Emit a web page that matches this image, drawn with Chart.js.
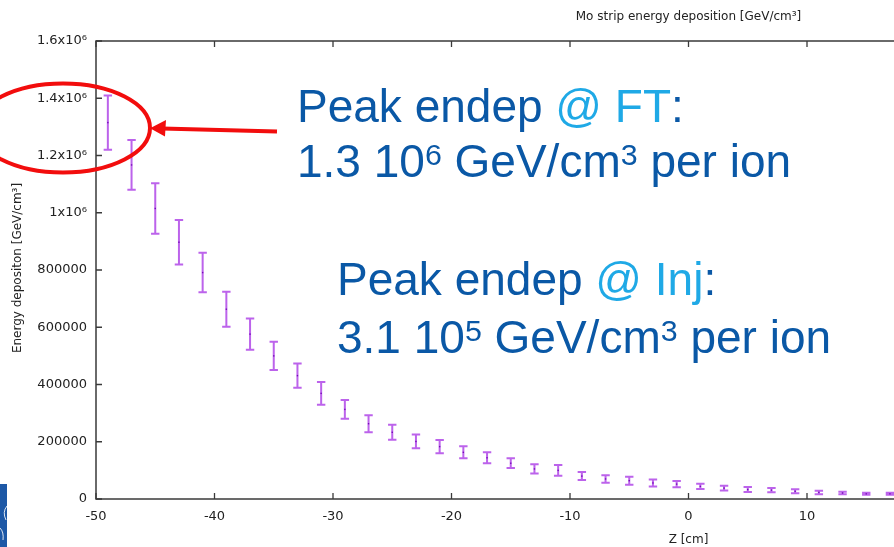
<!DOCTYPE html>
<html><head><meta charset="utf-8">
<script src="https://cdn.jsdelivr.net/npm/chart.js@4.4.0/dist/chart.umd.min.js"></script>
<style>
html,body{margin:0;padding:0;background:#fff;overflow:hidden;width:894px;height:547px;}
#wrap{position:absolute;left:0;top:0;width:1330px;height:547px;}
</style></head><body>
<div id="wrap"><canvas id="c" width="1330" height="547"></canvas></div>
<script>
// ---- data ----
const zValues = [-49,-47,-45,-43,-41,-39,-37,-35,-33,-31,-29,-27,-25,-23,-21,-19,-17,-15,-13,-11,-9,-7,-5,-3,-1,1,3,5,7,9,11,13,15,17];
const energy = [1315000,1167000,1015000,897000,791000,663000,576000,500000,431000,369000,313000,263000,233000,201000,183000,163000,144000,125000,105000,100000,80000,70000,64000,56000,52000,44000,38000,33000,31000,27000,23000,21000,18000,18000];
const energyErr = [95000,87000,88000,78000,69000,61000,55000,49000,42000,40000,33000,30000,26000,24000,23000,21000,19000,17000,16000,19000,14000,13000,14000,12000,11000,9000,8000,8500,7000,7000,6000,4000,3500,3500];
const xTickValues = [-50,-40,-30,-20,-10,0,10,20,30,40,50];
const yTickValues = [0,200000,400000,600000,800000,1000000,1200000,1400000,1600000];
const yTickLabels = ['0','200000','400000','600000','800000','1x10\u2076','1.2x10\u2076','1.4x10\u2076','1.6x10\u2076'];
const chartTitle = 'Mo strip energy deposition [GeV/cm\u00b3]';
const xTitle = 'Z [cm]';
const yTitle = 'Energy depositon [GeV/cm\u00b3]';
// annotation lines: [text, style] where style: d=dark blue, l=light blue, s=superscript dark
const noteFT1 = [['Peak endep ','d'],['@ FT','l'],[':','d']];
const noteFT2 = [['1.3 10','d'],['6','s'],[' GeV/cm','d'],['3','s'],[' per ion','d']];
const noteInj1 = [['Peak endep ','d'],['@ Inj','l'],[':','d']];
const noteInj2 = [['3.1 10','d'],['5','s'],[' GeV/cm','d'],['3','s'],[' per ion','d']];

const DARK = '#0a58a6', LIGHT = '#1fa9e6';
const AXIS = '#3a3a3a', TXT = '#222';

function drawNote(ctx, parts, x, y, size){
  let cx = x;
  for (const [t, s] of parts){
    if (s === 's'){
      ctx.font = (size*0.66).toFixed(1)+'px "Liberation Sans", Arial, sans-serif';
      ctx.fillStyle = DARK;
      ctx.fillText(t, cx, y - size*0.26);
    } else {
      ctx.font = size+'px "Liberation Sans", Arial, sans-serif';
      ctx.fillStyle = s === 'l' ? LIGHT : DARK;
      ctx.fillText(t, cx, y);
    }
    cx += ctx.measureText(t).width;
  }
}

const framePlugin = {
  id: 'frame',
  afterDatasetsDraw(chart){
    const ctx = chart.ctx, a = chart.chartArea;
    const xs = chart.scales.x, ys = chart.scales.y;
    ctx.save();
    // error bars
    ctx.strokeStyle = 'rgba(176,72,232,0.85)';
    ctx.lineWidth = 2;
    for (let i = 0; i < zValues.length; i++){
      const px = xs.getPixelForValue(zValues[i]);
      const pt = ys.getPixelForValue(energy[i] + energyErr[i]);
      const pb = ys.getPixelForValue(energy[i] - energyErr[i]);
      ctx.beginPath();
      ctx.moveTo(px, pt); ctx.lineTo(px, pb);
      ctx.moveTo(px-4.2, pt); ctx.lineTo(px+4.2, pt);
      ctx.moveTo(px-4.2, pb); ctx.lineTo(px+4.2, pb);
      ctx.stroke();
      const pc = ys.getPixelForValue(energy[i]);
      ctx.fillStyle = 'rgba(110,0,180,0.9)';
      ctx.fillRect(px-0.7, pc-0.7, 1.4, 1.4);
    }
    // border
    ctx.strokeStyle = AXIS;
    ctx.lineWidth = 1.5;
    ctx.strokeRect(a.left, a.top, a.right - a.left, a.bottom - a.top);
    // inward ticks
    ctx.lineWidth = 1.3;
    ctx.beginPath();
    for (const v of xTickValues){
      const px = xs.getPixelForValue(v);
      ctx.moveTo(px, a.bottom); ctx.lineTo(px, a.bottom - 6);
      ctx.moveTo(px, a.top); ctx.lineTo(px, a.top + 6);
    }
    for (const v of yTickValues){
      const py = ys.getPixelForValue(v);
      ctx.moveTo(a.left, py); ctx.lineTo(a.left + 6, py);
      ctx.moveTo(a.right, py); ctx.lineTo(a.right - 6, py);
    }
    ctx.stroke();
    // titles
    ctx.fillStyle = TXT;
    ctx.textBaseline = 'middle';
    ctx.textAlign = 'center';
    ctx.font = '12px "DejaVu Sans", sans-serif';
    ctx.fillText(chartTitle, (a.left + a.right)/2, 17);
    ctx.fillText(xTitle, xs.getPixelForValue(0), 540);
    ctx.save();
    ctx.translate(18, 268);
    ctx.rotate(-Math.PI/2);
    ctx.font = '12px "DejaVu Sans", sans-serif';
    ctx.fillText(yTitle, 0, 0);
    ctx.restore();
    // annotations
    ctx.textAlign = 'left';
    ctx.textBaseline = 'alphabetic';
    drawNote(ctx, noteFT1, 297, 122, 46);
    drawNote(ctx, noteFT2, 297, 177, 46);
    drawNote(ctx, noteInj1, 337, 295, 46);
    drawNote(ctx, noteInj2, 337, 353, 46);
    // red ellipse + arrow
    ctx.strokeStyle = '#f20d0d';
    ctx.lineWidth = 4;
    ctx.beginPath();
    ctx.ellipse(63, 128, 87, 44.5, 0, 0, Math.PI*2);
    ctx.stroke();
    ctx.beginPath();
    ctx.moveTo(277, 131.5); ctx.lineTo(162, 128.5);
    ctx.stroke();
    ctx.fillStyle = '#f20d0d';
    ctx.beginPath();
    ctx.moveTo(150, 128.2); ctx.lineTo(166, 120); ctx.lineTo(165, 136.5); ctx.closePath();
    ctx.fill();
    // logo fragment
    ctx.fillStyle = '#1d58a6';
    ctx.fillRect(0, 484, 7, 63);
    ctx.strokeStyle = 'rgba(255,255,255,0.85)';
    ctx.lineWidth = 1;
    ctx.beginPath();
    ctx.moveTo(7, 506); ctx.quadraticCurveTo(2, 512, 6, 520);
    ctx.moveTo(0, 528); ctx.quadraticCurveTo(4, 532, 3, 540);
    ctx.stroke();
    ctx.restore();
  }
};

new Chart(document.getElementById('c'), {
  type: 'scatter',
  data: { datasets: [{
    label: 'Mo strip',
    data: zValues.map((z, i) => ({x: z, y: energy[i]})),
    pointRadius: 0, pointHoverRadius: 0, showLine: false,
    borderColor: '#9400d3', backgroundColor: '#9400d3'
  }]},
  options: {
    responsive: false, animation: false, devicePixelRatio: 1,
    layout: { padding: { top: 41, left: 0, right: 49, bottom: 0 } },
    plugins: { legend: { display: false }, tooltip: { enabled: false }, title: { display: false } },
    scales: {
      x: {
        type: 'linear', min: -50, max: 50,
        grid: { display: false, drawTicks: false }, border: { display: false },
        ticks: { stepSize: 10, autoSkip: false, maxRotation: 0, padding: 10, color: TXT,
          font: { family: 'DejaVu Sans', size: 13 },
          callback: v => xTickValues.includes(v) ? String(v) : '' },
        afterFit: s => { s.height = 48; }
      },
      y: {
        type: 'linear', min: 0, max: 1600000,
        grid: { display: false, drawTicks: false }, border: { display: false },
        ticks: { stepSize: 200000, autoSkip: false, padding: 9, color: TXT,
          font: { family: 'DejaVu Sans', size: 13 },
          callback: v => { const i = yTickValues.indexOf(v); return i >= 0 ? yTickLabels[i] : ''; } },
        afterFit: s => { s.width = 96; }
      }
    }
  },
  plugins: [framePlugin]
});
</script>
</body></html>
